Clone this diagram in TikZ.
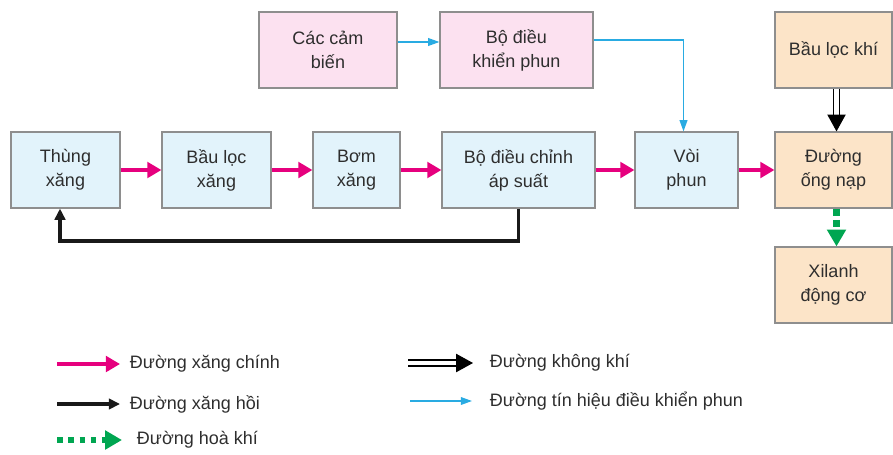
\documentclass[tikz,border=0pt]{standalone}
\usepackage{fontspec}
\setmainfont{Liberation Sans}
\usetikzlibrary{calc, arrows.meta}

\definecolor{rahmen}{HTML}{8E8E8E}
\definecolor{schrift}{HTML}{2E2E2E}
\definecolor{blaufl}{HTML}{E2F3FB}
\definecolor{rosafl}{HTML}{FCE1F0}
\definecolor{beigefl}{HTML}{FCE4C8}
\definecolor{kraftstoff}{HTML}{E6007E}
\definecolor{signal}{HTML}{29ABE2}
\definecolor{gemischgr}{HTML}{00A651}

\tikzset{
    kasten/.style={draw=rahmen, line width=0.8pt, minimum height=1.9cm, align=center,
        text=schrift, inner sep=2pt, font=\fontsize{12.8}{17}\selectfont},
    blau/.style={kasten, fill=blaufl},
    rosa/.style={kasten, fill=rosafl},
    beige/.style={kasten, fill=beigefl},
    legtext/.style={right, text=schrift, font=\fontsize{12.8}{17}\selectfont},
    haupt/.style={line width=3.5pt, draw=kraftstoff, -{Triangle[length=10pt,width=11pt,fill=kraftstoff]}},
    rueck/.style={line width=2.4pt, draw=black!90, -{Triangle[length=8pt,width=7.5pt]}},
    sig/.style={line width=1pt, draw=signal, -{Triangle[length=8pt,width=5.5pt,fill=signal]}},
    luft/.style={draw=black, line width=0.8pt, double=white, double distance=3.5pt,
        -{Triangle[length=12pt,width=13pt,fill=black]}},
    gemisch/.style={line width=4.5pt, draw=gemischgr, dash pattern=on 5pt off 3pt,
        -{Triangle[length=12pt,width=13pt,fill=gemischgr]}}
}

\begin{document}
\begin{tikzpicture}[x=0.025cm, y=-0.025cm]
\useasboundingbox (0,0) rectangle (893,454);

% Kraftstoffkette
\node[blau, minimum width=2.725cm] (tank) at (65.5,170) {Thùng\\xăng};
\node[blau, minimum width=2.725cm] (filt) at (216.5,170) {Bầu lọc\\xăng};
\node[blau, minimum width=2.175cm] (pump) at (356.5,170) {Bơm\\xăng};
\node[blau, minimum width=3.825cm] (reg) at (518.5,170) {Bộ điều chỉnh\\áp suất};
\node[blau, minimum width=2.575cm] (inj) at (686.5,170) {Vòi\\phun};

% Steuerung
\node[rosa, minimum width=3.45cm] (sens) at (328,50) {Các cảm\\biến};
\node[rosa, minimum width=3.825cm] (ecu) at (516.5,50) {Bộ điều\\khiển phun};

% Luftseite
\node[beige, minimum width=2.925cm] (airf) at (833.5,50) {Bầu lọc khí};
\node[beige, minimum width=2.925cm] (man) at (833.5,170) {Đường\\ống nạp};
\node[beige, minimum width=2.925cm] (cyl) at (833.5,285) {Xilanh\\động cơ};

% Hauptleitung
\draw[haupt] (tank) -- (filt);
\draw[haupt] (filt) -- (pump);
\draw[haupt] (pump) -- (reg);
\draw[haupt] (reg) -- (inj);
\draw[haupt] (inj) -- (man);

% Ruecklauf
\coordinate (rk) at (60,241);
\draw[rueck] (reg.south) |- (rk) -- (tank.south -| rk);

% Signale
\draw[sig] ($(sens.east)+(0,-8)$) -- ($(ecu.west)+(0,-8)$);
\draw[sig] ($(ecu.east)+(0,-10)$) -| ($(inj.north)+(-3,0)$);

% Luft und Gemisch
\draw[luft] ($(airf.south)+(3,0)$) -- ($(man.north)+(3,0)$);
\draw[gemisch] ($(man.south)+(3,0)$) -- ($(cyl.north)+(3,0)$);

% Legende
\coordinate (l1a) at (57,364); \coordinate (l1b) at (120,364);
\coordinate (l2a) at (57,404); \coordinate (l2b) at (120,404);
\coordinate (l3a) at (57,440); \coordinate (l3b) at (122,440);
\coordinate (l4a) at (408,363); \coordinate (l4b) at (473,363);
\coordinate (l5a) at (410,401); \coordinate (l5b) at (472,401);
\draw[haupt] (l1a) -- (l1b);
\draw[rueck] (l2a) -- (l2b);
\draw[gemisch, dash pattern=on 4pt off 4pt] (l3a) -- (l3b);
\draw[luft] (l4a) -- (l4b);
\draw[sig] (l5a) -- (l5b);
\node[legtext] (t1) at (125,364) {Đường xăng chính};
\node[legtext] (t2) at (125,404) {Đường xăng hồi};
\node[legtext] (t3) at (132,440) {Đường hoà khí};
\node[legtext] (t4) at (485,363) {Đường không khí};
\node[legtext] (t5) at (485,401) {Đường tín hiệu điều khiển phun};

\end{tikzpicture}
\end{document}
